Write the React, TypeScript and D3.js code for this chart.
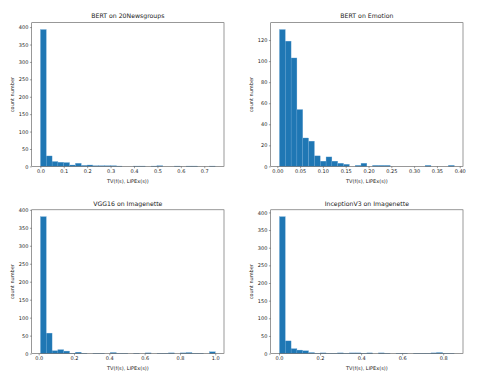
import * as d3 from "d3";
import React, { useRef, useEffect } from "react";

// histogram counts, 30 bins each
const newsgroupsCounts = [393, 30, 14, 12, 11, 4, 9, 3, 4, 2, 2, 2, 2, 1, 0, 0, 1, 1, 0, 1, 2, 0, 0, 1, 0, 1, 1, 0, 0, 1];
const emotionCounts = [130, 119, 103, 54, 27, 24, 10, 5, 9, 5, 3, 2, 0, 1, 3, 0, 1, 1, 1, 0, 0, 0, 0, 0, 0, 1, 0, 0, 0, 1];
const vggCounts = [381, 57, 8, 11, 7, 1, 4, 1, 0, 1, 1, 0, 3, 1, 1, 0, 1, 0, 2, 0, 1, 1, 2, 0, 2, 3, 1, 1, 0, 5];
const inceptionCounts = [388, 36, 14, 10, 8, 3, 1, 2, 1, 1, 2, 1, 2, 2, 1, 2, 0, 2, 1, 0, 1, 1, 0, 1, 1, 1, 2, 3, 1, 1];

const titles = ["BERT on 20Newsgroups", "BERT on Emotion", "VGG16 on Imagenette", "InceptionV3 on Imagenette"];
const dataRanges = [
  [0.0004, 0.747],
  [0.0047, 0.388],
  [0.01, 1.0],
  [0.002, 0.854],
];
const xTicks = [
  [0, 0.1, 0.2, 0.3, 0.4, 0.5, 0.6, 0.7],
  [0, 0.05, 0.1, 0.15, 0.2, 0.25, 0.3, 0.35, 0.4],
  [0, 0.2, 0.4, 0.6, 0.8, 1.0],
  [0, 0.2, 0.4, 0.6, 0.8],
];
const xFormats = [".1f", ".2f", ".1f", ".1f"];
const yTicks = [
  [0, 50, 100, 150, 200, 250, 300, 350, 400],
  [0, 20, 40, 60, 80, 100, 120],
  [0, 50, 100, 150, 200, 250, 300, 350, 400],
  [0, 50, 100, 150, 200, 250, 300, 350, 400],
];
const allCounts = [newsgroupsCounts, emotionCounts, vggCounts, inceptionCounts];

const W = 489;
const H = 375;
const cols = [[31.7, 224], [270.7, 463]];
const rows = [[22.7, 166.4], [209.8, 353.6]];

function Charts() {
  const ref = useRef(null);

  useEffect(() => {
    const svg = d3.select(ref.current);
    svg.selectAll("*").remove();
    svg.append("rect").attr("width", W).attr("height", H).attr("fill", "white");

    allCounts.forEach((counts, k) => {
      const [x0, x1] = cols[k % 2];
      const [y0, y1] = rows[Math.floor(k / 2)];
      const [lo, hi] = dataRanges[k];
      const pad = (hi - lo) * 0.05;
      const binW = (hi - lo) / counts.length;

      const x = d3.scaleLinear().domain([lo - pad, hi + pad]).range([x0, x1]);
      const y = d3.scaleLinear().domain([0, d3.max(counts) * 1.05]).range([y1, y0]);

      const g = svg.append("g");

      g.selectAll(".bar")
        .data(counts)
        .enter()
        .append("rect")
        .attr("class", "bar")
        .attr("x", (d, i) => x(lo + i * binW))
        .attr("width", (d, i) => x(lo + (i + 1) * binW) - x(lo + i * binW))
        .attr("y", (d) => y(d))
        .attr("height", (d) => y1 - y(d))
        .attr("fill", "#1f77b4")
        .attr("stroke", "#6fa8d6")
        .attr("stroke-width", 0.3);

      const xAxis = d3
        .axisBottom(x)
        .tickValues(xTicks[k])
        .tickFormat(d3.format(xFormats[k]))
        .tickSizeOuter(0)
        .tickSize(1.8)
        .tickPadding(1.5);
      const yAxis = d3
        .axisLeft(y)
        .tickValues(yTicks[k])
        .tickSizeOuter(0)
        .tickSize(1.8)
        .tickPadding(1.5);

      const gx = g.append("g").attr("transform", `translate(0,${y1})`).call(xAxis);
      const gy = g.append("g").attr("transform", `translate(${x0},0)`).call(yAxis);
      [gx, gy].forEach((a) => {
        a.select(".domain").remove();
        a.selectAll("line").attr("stroke", "#444").attr("stroke-width", 0.5);
        a.selectAll("text")
          .attr("font-family", "DejaVu Sans")
          .attr("font-size", 5)
          .attr("fill", "#222");
      });

      // frame
      g.append("rect")
        .attr("x", x0)
        .attr("y", y0)
        .attr("width", x1 - x0)
        .attr("height", y1 - y0)
        .attr("fill", "none")
        .attr("stroke", "#555")
        .attr("stroke-width", 0.6);

      g.append("text")
        .attr("x", (x0 + x1) / 2)
        .attr("y", y0 - 4.3)
        .attr("text-anchor", "middle")
        .attr("font-family", "DejaVu Sans")
        .attr("font-size", 6.2)
        .attr("fill", "#222")
        .text(titles[k]);

      g.append("text")
        .attr("x", (x0 + x1) / 2)
        .attr("y", y1 + 16.5)
        .attr("text-anchor", "middle")
        .attr("font-family", "DejaVu Sans")
        .attr("font-size", 5)
        .attr("fill", "#222")
        .text("TV(f(s), LIPEx(s))");

      g.append("text")
        .attr("transform", `translate(${x0 - 17.7},${(y0 + y1) / 2}) rotate(-90)`)
        .attr("text-anchor", "middle")
        .attr("font-family", "DejaVu Sans")
        .attr("font-size", 5)
        .attr("fill", "#222")
        .text("count number");
    });
  }, []);

  return <svg ref={ref} width={W} height={H}></svg>;
}

export default function App() {
  return (
    <div style={{ position: "absolute", left: 0, top: 0 }}>
      <Charts />
    </div>
  );
}
